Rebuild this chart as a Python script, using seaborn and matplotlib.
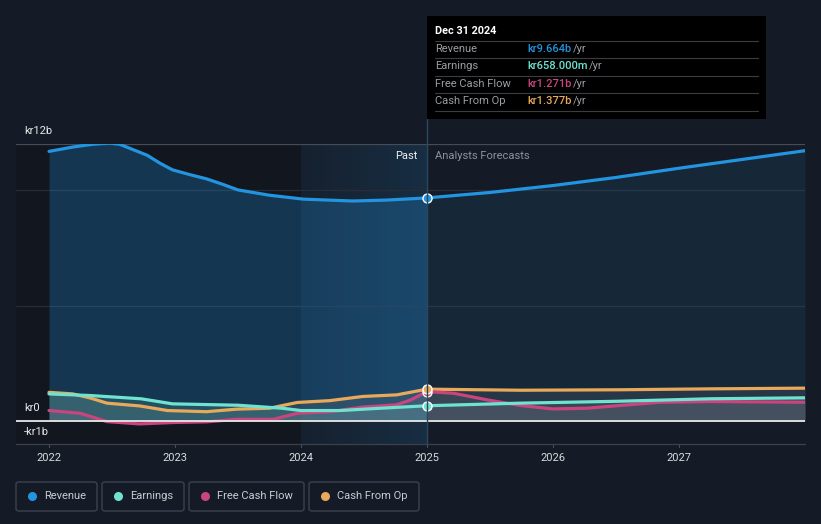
import matplotlib
matplotlib.use("Agg")
import matplotlib.pyplot as plt
import seaborn as sns
import numpy as np
from matplotlib.patches import FancyBboxPatch, Rectangle
from matplotlib.lines import Line2D

# ---------------- data (billions kr) ----------------
rev_x = [2022.0, 2022.19, 2022.35, 2022.48, 2022.56, 2022.67, 2022.78, 2022.88, 2022.98,
         2023.12, 2023.25, 2023.38, 2023.50, 2023.75, 2024.02, 2024.41, 2024.68, 2025.0,
         2025.5, 2026.0, 2026.5, 2027.0, 2027.5, 2028.0]
rev_y = [11.68, 11.87, 11.99, 12.04, 11.99, 11.75, 11.51, 11.17, 10.88,
         10.67, 10.49, 10.25, 10.01, 9.78, 9.61, 9.53, 9.57, 9.664,
         9.90, 10.20, 10.55, 10.95, 11.33, 11.71]

earn_x = [2022.0, 2022.33, 2022.73, 2022.98, 2023.5, 2023.85, 2024.0, 2024.31, 2024.63,
          2025.0, 2025.74, 2026.5, 2027.25, 2028.0]
earn_y = [1.17, 1.10, 0.96, 0.74, 0.68, 0.55, 0.45, 0.45, 0.55,
          0.658, 0.77, 0.85, 0.96, 1.00]

fcf_x = [2022.0, 2022.25, 2022.46, 2022.72, 2022.98, 2023.25, 2023.49, 2023.78, 2023.97,
         2024.23, 2024.49, 2024.76, 2024.87, 2025.0, 2025.21, 2025.48, 2025.74, 2026.0,
         2026.27, 2026.53, 2026.85, 2027.25, 2028.0]
fcf_y = [0.45, 0.33, -0.03, -0.13, -0.07, -0.04, 0.07, 0.07, 0.33,
         0.40, 0.60, 0.70, 0.91, 1.271, 1.20, 0.91, 0.67, 0.52,
         0.55, 0.67, 0.81, 0.84, 0.81]

cfo_x = [2022.0, 2022.19, 2022.33, 2022.46, 2022.72, 2022.94, 2023.25, 2023.49, 2023.75,
         2023.97, 2024.23, 2024.49, 2024.76, 2025.0, 2025.74, 2026.53, 2027.25, 2028.0]
cfo_y = [1.24, 1.17, 0.99, 0.77, 0.65, 0.45, 0.40, 0.51, 0.55,
         0.80, 0.88, 1.06, 1.13, 1.377, 1.33, 1.35, 1.39, 1.42]

series_names = ["Revenue", "Earnings", "Free Cash Flow", "Cash From Op"]
series_colors = ["#2394df", "#6fe3d0", "#c9457f", "#e8a95b"]
tooltip_values = ["kr9.664b", "kr658.000m", "kr1.271b", "kr1.377b"]
year_ticks = [2022, 2023, 2024, 2025, 2026, 2027]
now_x = 2025.0

# ---------------- style ----------------
sns.set_theme(style="dark")
plt.rcParams["font.family"] = ["Roboto", "DejaVu Sans"]
BG = "#151b26"
W, H = 821, 524
fig = plt.figure(figsize=(W / 100, H / 100), dpi=100, facecolor=BG)

def fx(px):
    return px / W

def fy(py):
    return 1 - py / H

ax_left, ax_right, ax_top, ax_bot = 16, 805, 144, 444
ax = fig.add_axes([fx(ax_left), fy(ax_bot), fx(ax_right - ax_left), (ax_bot - ax_top) / H])
ax.set_facecolor(BG)
x0 = 2022 - (49 - 16) / 126.0
for s in ax.spines.values():
    s.set_visible(False)
ax.set_xticks([])
ax.set_yticks([])

# darker past background, highlighted last year
ax.axvspan(x0, 2024.0, color="#000000", alpha=0.17, lw=0, zorder=0)
grad = np.linspace(0, 1, 256).reshape(1, -1)
ax.imshow(grad, extent=[2024.0, 2025.0, -1, 12], aspect="auto",
          cmap=matplotlib.colors.LinearSegmentedColormap.from_list(
              "hl", [(0.14, 0.58, 0.87, 0.05), (0.14, 0.58, 0.87, 0.16)]), zorder=0.5)
ax.set_xlim(x0, 2028.0)
ax.set_ylim(-1, 12)

# gridlines
ax.axhline(12, color="#464c56", lw=0.9, zorder=1)
for g in [10, 5]:
    ax.axhline(g, color="#262d39", lw=0.9, zorder=1)

def split(xs, ys):
    xs = np.array(xs); ys = np.array(ys)
    p = xs <= now_x
    f = xs >= now_x
    return xs[p], ys[p], xs[f], ys[f]

# revenue fill
rpx, rpy, rfx, rfy = split(rev_x, rev_y)
ax.fill_between(rpx, 0, rpy, color="#2394df", alpha=0.26, lw=0, zorder=2)
ax.fill_between(rfx, 0, rfy, color="#2394df", alpha=0.10, lw=0, zorder=2)

# other fills
for xs, ys, c in [(cfo_x, cfo_y, "#9aa0a0"), (earn_x, earn_y, "#6fe3d0"), (fcf_x, fcf_y, "#9a8a96")]:
    px_, py_, fx_, fy_ = split(xs, ys)
    ax.fill_between(px_, 0, py_, color=c, alpha=0.16, lw=0, zorder=2)
    ax.fill_between(fx_, 0, fy_, color="#8a8f99", alpha=0.16, lw=0, zorder=2)

# lines
for xs, ys, c in [(rev_x, rev_y, series_colors[0]), (cfo_x, cfo_y, series_colors[3]),
                  (fcf_x, fcf_y, series_colors[2]), (earn_x, earn_y, series_colors[1])]:
    sns.lineplot(x=xs, y=ys, ax=ax, color=c, lw=2.3, zorder=4, solid_capstyle="round",
                 solid_joinstyle="round")

# zero line and bottom axis
ax.axhline(0, color="#e8e8e8", lw=1.3, zorder=5)
ax.axhline(-1, color="#3c424c", lw=0.9, zorder=5, clip_on=False)
for yt in year_ticks:
    ax.plot([yt, yt], [-1, -1.12], color="#4a505a", lw=0.8, clip_on=False)

# markers at now
for v, c in zip([9.664, 0.658, 1.271, 1.377], series_colors):
    ax.scatter([now_x], [v], s=42, color=c, edgecolor="white", linewidth=1.0, zorder=6)

# vertical now line
fig.add_artist(Line2D([fx(427), fx(427)], [fy(119), fy(444)], color="#2b4860", lw=1.0, zorder=3))

# year labels
for yt in year_ticks:
    px = 49 + (yt - 2022) * 126
    fig.text(fx(px), fy(458), str(yt), color="#d8dadd", fontsize=8, ha="center", va="center")

# y labels
fig.text(fx(24), fy(131), "kr12b", color="#e6e8ea", fontsize=8, ha="left", va="center")
fig.text(fx(24), fy(408), "kr0", color="#e6e8ea", fontsize=8, ha="left", va="center")
fig.text(fx(24), fy(432), "-kr1b", color="#e6e8ea", fontsize=8, ha="left", va="center")

# past / forecast
fig.text(fx(417), fy(156), "Past", color="#f0f0f0", fontsize=8, ha="right", va="center")
fig.text(fx(435), fy(156), "Analysts Forecasts", color="#8d9298", fontsize=8, ha="left", va="center")

# tooltip
fig.add_artist(Rectangle((fx(427), fy(119)), fx(766 - 427), (119 - 16) / H,
                         facecolor="#000000", edgecolor="none", zorder=7))
fig.text(fx(435), fy(31), "Dec 31 2024", color="white", fontsize=7.8, fontweight="bold",
         ha="left", va="center", zorder=8)
for ly in [41, 58, 76, 93, 111]:
    fig.add_artist(Line2D([fx(435), fx(758)], [fy(ly), fy(ly)], color="#3a3d42", lw=0.8, zorder=8))
row_y = [49, 66, 84, 101]
yr_x = [573, 589, 573, 573]
for name, val, c, ry, yx in zip(series_names, tooltip_values, series_colors, row_y, yr_x):
    fig.text(fx(435), fy(ry), name, color="#9a9ea4", fontsize=8, ha="left", va="center", zorder=8)
    fig.text(fx(527), fy(ry), val, color=c, fontsize=8, fontweight="medium", ha="left", va="center", zorder=8)
    fig.text(fx(yx), fy(ry), "/yr", color="#9a9ea4", fontsize=8, ha="left", va="center", zorder=8)

# legend
boxes = [(16, 97), (102, 184), (189, 304), (309, 419)]
for (bx0, bx1), name, c in zip(boxes, series_names, series_colors):
    fig.add_artist(FancyBboxPatch((fx(bx0), fy(511)), fx(bx1 - bx0), 29 / H,
                                  boxstyle="round,pad=0,rounding_size=0.004",
                                  facecolor=BG, edgecolor="#3d434d", lw=1.0))
    fig.add_artist(Line2D([fx(bx0 + 16)], [fy(496)], marker="o", markersize=6.5,
                          color=c, markeredgewidth=0))
    fig.text(fx(bx0 + 28), fy(496), name, color="#c9ccd0", fontsize=8, ha="left", va="center")

fig.savefig("out.png", dpi=100, facecolor=BG)
